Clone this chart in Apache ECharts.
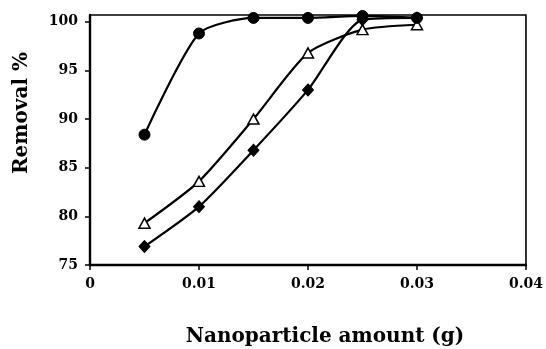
<!DOCTYPE html>
<html>
<head>
<meta charset="utf-8">
<script src="https://cdn.jsdelivr.net/npm/echarts@6/dist/echarts.min.js"></script>
<style>
  html,body{margin:0;padding:0;background:#fff;}
  #chart{width:546px;height:349px;}
</style>
</head>
<body>
<div id="chart"></div>
<script>
"use strict";

// nanoparticle amount (g)
var amounts=[0.005,0.01,0.015,0.02,0.025,0.03];
// removal % for each nanoparticle
var circleVals=[88.4,98.8,100.4,100.4,100.6,100.4];
var triangleVals=[79.3,83.6,90.0,96.8,99.2,99.7];
var diamondVals=[76.9,81.0,86.8,93.0,100.2,100.4];
var yTicks=[75,80,85,90,95,100];

var FONT='"DejaVu Serif", "Liberation Serif", serif';

function pairs(vals){
  return amounts.map(function(x,i){return [x,vals[i]];});
}

function mkSeries(name,vals,opt){
  return Object.assign({
    name:name,
    type:'line',
    data:pairs(vals),
    smooth:0.22,
    lineStyle:{color:'#000',width:2.2},
    z:2
  },opt);
}

var chart=echarts.init(document.getElementById('chart'),null,{renderer:'canvas'});

var option={
  animation:false,
  backgroundColor:'#fff',
  grid:{
    left:90,right:18,top:15,bottom:84,
    show:true,borderColor:'#000',borderWidth:1.6,backgroundColor:'transparent'
  },
  xAxis:{
    type:'value',min:0,max:0.04,interval:0.01,
    axisLine:{show:true,lineStyle:{color:'#000',width:2.4}},
    axisTick:{show:true,inside:false,length:5,lineStyle:{color:'#000',width:1.5}},
    splitLine:{show:false},
    axisLabel:{
      color:'#000',fontFamily:FONT,fontWeight:'bold',fontSize:14,margin:12,
      formatter:function(v){return v===0?'0':v.toFixed(2);}
    }
  },
  yAxis:{
    type:'value',min:75,max:100.7,
    axisLine:{show:true,lineStyle:{color:'#000',width:2.4}},
    axisTick:{show:true,length:5,customValues:yTicks,lineStyle:{color:'#000',width:1.5}},
    splitLine:{show:false},
    axisLabel:{
      color:'#000',fontFamily:FONT,fontWeight:'bold',fontSize:14,margin:12,
      customValues:yTicks
    }
  },
  graphic:[
    {
      type:'text',x:22,y:113,rotation:Math.PI/2,
      style:{text:'Removal %',font:'bold 20px '+FONT,fill:'#000',
        textAlign:'center',textVerticalAlign:'middle'}
    },
    {
      type:'text',x:325,y:337,
      style:{text:'Nanoparticle amount (g)',font:'bold 20px '+FONT,fill:'#000',
        textAlign:'center',textVerticalAlign:'middle'}
    }
  ],
  series:[
    mkSeries('diamond',diamondVals,{
      symbol:'diamond',symbolSize:[11,12],
      itemStyle:{color:'#000',borderColor:'#000',borderWidth:1}
    }),
    mkSeries('triangle',triangleVals,{
      symbol:'triangle',symbolSize:[11,10],
      itemStyle:{color:'#fff',borderColor:'#000',borderWidth:1.5}
    }),
    mkSeries('circle',circleVals,{
      symbol:'circle',symbolSize:11,
      itemStyle:{color:'#000',borderColor:'#000',borderWidth:1}
    })
  ]
};

chart.setOption(option);
</script>
</body>
</html>
